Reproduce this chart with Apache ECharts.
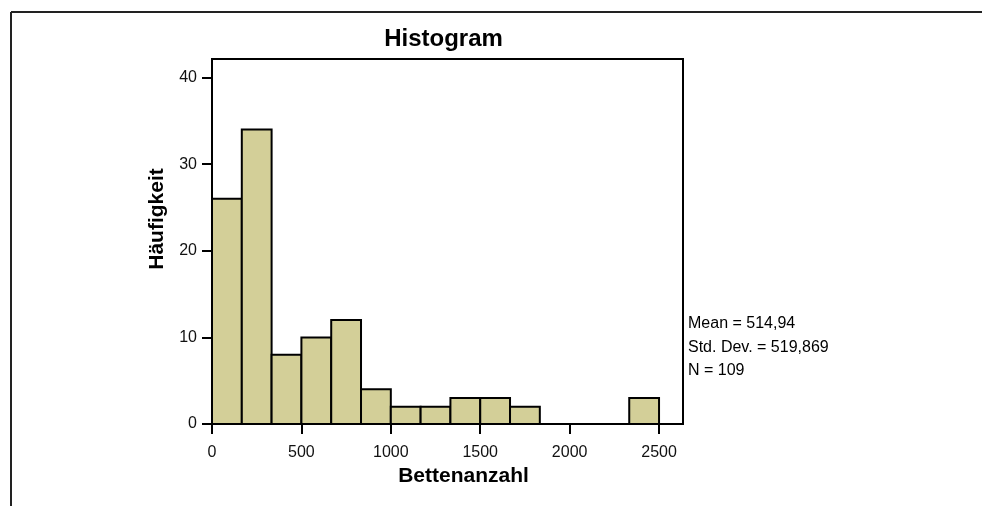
<!DOCTYPE html>
<html>
<head>
<meta charset="utf-8">
<script src="https://cdn.jsdelivr.net/npm/echarts@6/dist/echarts.min.js"></script>
<style>
html,body{margin:0;padding:0;background:#fff;}
#chart{width:982px;height:506px;}
</style>
</head>
<body>
<div id="chart"></div>
<script>
// Histogram data
var binEdges = [0, 166.67, 333.33, 500, 666.67, 833.33, 1000, 1166.67, 1333.33, 1500, 1666.67, 1833.33, 2000, 2166.67, 2333.33, 2500];
var counts = [26, 34, 8, 10, 12, 4, 2, 2, 3, 3, 2, 0, 0, 0, 3];
var xTicks = [0, 500, 1000, 1500, 2000, 2500];
var yTicks = [0, 10, 20, 30, 40];
var titleText = 'Histogram';
var xName = 'Bettenanzahl';
var yName = 'Häufigkeit';
var statsLines = ['Mean = 514,94', 'Std. Dev. = 519,869', 'N = 109'];

var FONT = "'Liberation Sans', Arial, sans-serif";
var seriesData = [];
for (var i = 0; i < counts.length; i++) {
  if (counts[i] > 0) seriesData.push([binEdges[i], binEdges[i + 1], counts[i]]);
}

var chart = echarts.init(document.getElementById('chart'), null, {renderer: 'canvas'});
var option = {
  backgroundColor: '#ffffff',
  animation: false,
  grid: {
    left: 212, top: 59, right: 299, bottom: 82,
    show: true, borderColor: '#000', borderWidth: 2, backgroundColor: 'transparent'
  },
  xAxis: {
    type: 'value', min: 0, max: 2634,
    splitLine: {show: false},
    axisLine: {show: true, lineStyle: {color: '#000', width: 2}},
    axisTick: {show: true, length: 10, inside: false, lineStyle: {color: '#000', width: 2}, customValues: xTicks},
    axisLabel: {show: true, margin: 21, color: '#111', fontFamily: FONT, fontSize: 16, customValues: xTicks,
      formatter: function (v) { return String(Math.round(v)); }}
  },
  yAxis: {
    type: 'value', min: 0, max: 42.15,
    splitLine: {show: false},
    axisLine: {show: true, lineStyle: {color: '#000', width: 2}},
    axisTick: {show: true, length: 10, inside: false, lineStyle: {color: '#000', width: 2}, customValues: yTicks},
    axisLabel: {show: true, margin: 15, color: '#111', fontFamily: FONT, fontSize: 16, customValues: yTicks,
      formatter: function (v) { return String(Math.round(v)); }}
  },
  series: [{
    type: 'custom',
    data: seriesData,
    encode: {x: [0, 1], y: 2},
    renderItem: function (params, api) {
      var s = api.coord([api.value(0), 0]);
      var e = api.coord([api.value(1), api.value(2)]);
      return {
        type: 'rect',
        shape: {x: s[0], y: e[1], width: e[0] - s[0], height: s[1] - e[1]},
        style: {fill: '#D3CF98', stroke: '#000', lineWidth: 2}
      };
    }
  }],
  graphic: [
    {type: 'line', shape: {x1: 11, y1: 12, x2: 982, y2: 12}, style: {stroke: '#222', lineWidth: 2}},
    {type: 'line', shape: {x1: 11, y1: 12, x2: 11, y2: 506}, style: {stroke: '#222', lineWidth: 2}},
    {type: 'text', x: 443.5, y: 39, style: {text: titleText, font: 'bold 24px ' + FONT, fill: '#000', textAlign: 'center', textVerticalAlign: 'middle'}},
    {type: 'text', x: 463.5, y: 476, style: {text: xName, font: 'bold 21px ' + FONT, fill: '#000', textAlign: 'center', textVerticalAlign: 'middle'}},
    {type: 'text', x: 157.5, y: 219, rotation: Math.PI / 2, style: {text: yName, font: 'bold 21px ' + FONT, fill: '#000', textAlign: 'center', textVerticalAlign: 'middle'}},
    {type: 'text', x: 688, y: 324, style: {text: statsLines[0], font: '16px ' + FONT, fill: '#000', textAlign: 'left', textVerticalAlign: 'middle'}},
    {type: 'text', x: 688, y: 347.5, style: {text: statsLines[1], font: '16px ' + FONT, fill: '#000', textAlign: 'left', textVerticalAlign: 'middle'}},
    {type: 'text', x: 688, y: 371, style: {text: statsLines[2], font: '16px ' + FONT, fill: '#000', textAlign: 'left', textVerticalAlign: 'middle'}}
  ]
};
chart.setOption(option);
</script>
</body>
</html>
